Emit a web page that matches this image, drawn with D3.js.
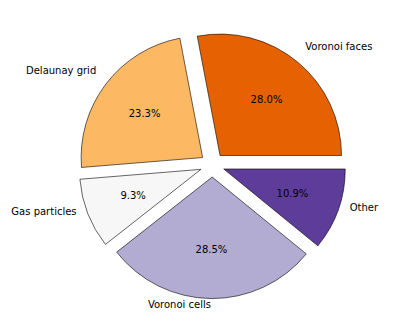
<!DOCTYPE html>
<html>
<head>
<meta charset="utf-8">
<script src="https://cdn.jsdelivr.net/npm/d3@7"></script>
<style>
  body { margin: 0; background: #fff; }
  text { font-family: "DejaVu Sans", Verdana, sans-serif; font-size: 10px; fill: #000; }
</style>
</head>
<body>
<svg id="chart" width="415" height="332"></svg>
<script>
// slice data, in matplotlib order (counter-clockwise from east)
var labels = ["Voronoi faces", "Delaunay grid", "Gas particles", "Voronoi cells", "Other"];
var values = [28.0, 23.3, 9.3, 28.5, 10.9];
var colors = ["#e66101", "#fdb863", "#f7f7f7", "#b2abd2", "#5e3c99"];

var svg = d3.select("svg#chart");
var cx = 212.3, cy = 164.9, r = 121.5;
var explode = 0.1;

var pie = d3.pie()
  .sort(null)
  .startAngle(Math.PI / 2)
  .endAngle(Math.PI / 2 - 2 * Math.PI);

var arc = d3.arc().innerRadius(0).outerRadius(r);
var total = d3.sum(values);

var slices = pie(values).map(function (d, i) {
  var m = (d.startAngle + d.endAngle) / 2;
  d.ux = Math.sin(m);
  d.uy = -Math.cos(m);
  d.ox = cx + explode * r * d.ux;
  d.oy = cy + explode * r * d.uy;
  d.i = i;
  return d;
});

var g = svg.append("g");

g.selectAll("path")
  .data(slices)
  .join("path")
  .attr("transform", function (d) { return "translate(" + d.ox + "," + d.oy + ")"; })
  .attr("d", arc)
  .attr("fill", function (d) { return colors[d.i]; })
  .attr("stroke", "#000")
  .attr("stroke-width", 0.6);

// outer labels
g.selectAll("text.label")
  .data(slices)
  .join("text")
  .attr("class", "label")
  .attr("x", function (d) { return d.ox + 1.1 * r * d.ux; })
  .attr("y", function (d) { return d.oy + 1.1 * r * d.uy - 6.3; })
  .attr("dominant-baseline", "central")
  .attr("text-anchor", function (d) { return d.ux > 0 ? "start" : "end"; })
  .text(function (d) { return labels[d.i]; });

// percentages
g.selectAll("text.pct")
  .data(slices)
  .join("text")
  .attr("class", "pct")
  .attr("x", function (d) { return d.ox + 0.6 * r * d.ux; })
  .attr("y", function (d) { return d.oy + 0.6 * r * d.uy; })
  .attr("dominant-baseline", "central")
  .attr("text-anchor", "middle")
  .text(function (d) { return (100 * d.value / total).toFixed(1) + "%"; });
</script>
</body>
</html>
